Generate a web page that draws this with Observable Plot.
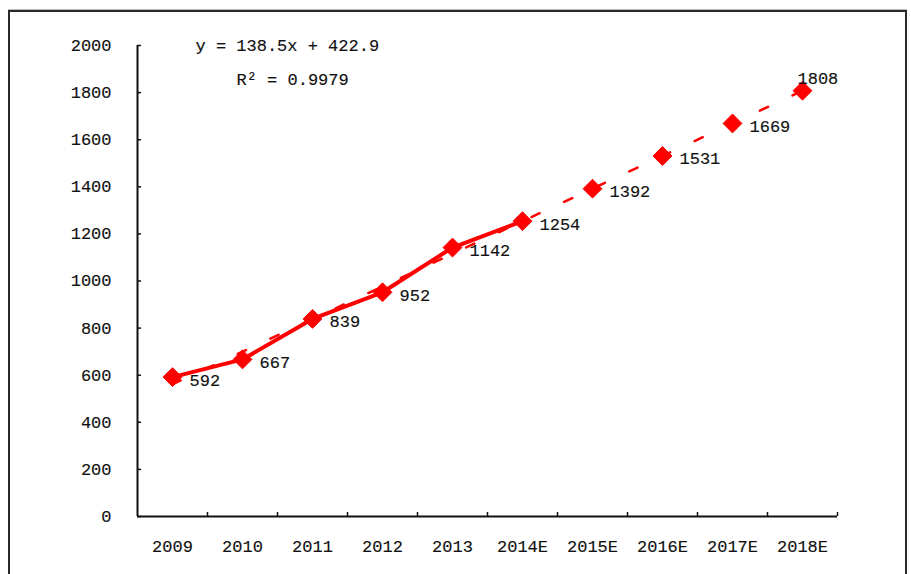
<!DOCTYPE html>
<html>
<head>
<meta charset="utf-8">
<script src="https://cdn.jsdelivr.net/npm/d3@7"></script>
<script src="https://cdn.jsdelivr.net/npm/@observablehq/plot@0.6"></script>
<style>
  html, body { margin: 0; padding: 0; background: #fff; }
  #wrap { position: relative; width: 911px; height: 574px; overflow: hidden; }
  #border { position: absolute; left: 8px; top: 10px; width: 895px; height: 600px; border: 2px solid #2a2a2a; box-shadow: 0 -1px 0 #bbb; pointer-events: none; }
  #chart text { stroke: #111; stroke-width: 0.15px; }
</style>
</head>
<body>
<div id="wrap"><div id="border"></div><div id="chart"></div></div>
<script>
const categories = ["2009","2010","2011","2012","2013","2014E","2015E","2016E","2017E","2018E"];
const values = [592, 667, 839, 952, 1142, 1254, 1392, 1531, 1669, 1808];
const actualCount = 6; // 2009 .. 2014E drawn with solid line
const trendValues = [561.4, 699.9, 838.4, 976.9, 1115.4, 1253.9, 1392.4, 1530.9, 1669.4, 1807.9];
const yTicks = [0, 200, 400, 600, 800, 1000, 1200, 1400, 1600, 1800, 2000];
const equationText = "y = 138.5x + 422.9";
const r2Text = "R² = 0.9979";

const data = categories.map((c, i) => ({cat: c, value: values[i], trend: trendValues[i], i}));
const actual = data.slice(0, actualCount);
const last = data.length - 1;

const font = "'Liberation Mono', 'DejaVu Sans Mono', monospace";
const W = 911, H = 574;
const mL = 137, mR = 74, mT = 45, mB = 58;
const frameW = W - mL - mR, frameH = H - mT - mB;
const band = frameW / categories.length;

const chart = Plot.plot({
  width: W,
  height: H,
  marginLeft: mL,
  marginRight: mR,
  marginTop: mT,
  marginBottom: mB,
  style: {fontFamily: font, fontSize: "17px", color: "#111", background: "transparent"},
  x: {type: "band", domain: categories, padding: 0, label: null},
  y: {domain: [0, 2000], label: null},
  marks: [
    Plot.axisY(yTicks, {tickSize: 0, tickPadding: 26, fontSize: 17, tickFormat: d => String(d)}),
    Plot.axisX({tickSize: 0, tickPadding: 23, fontSize: 17}),
    // inward y ticks
    Plot.ruleY(yTicks, {y: d => d, insetRight: frameW - 4, stroke: "#111", strokeWidth: 1.5}),
    // x ticks between categories
    Plot.ruleX(categories, {x: d => d, dx: band / 2, insetTop: frameH - 4, stroke: "#111", strokeWidth: 1.5}),
    // axis lines
    Plot.ruleY([0], {stroke: "#111", strokeWidth: 2}),
    Plot.ruleX([categories[0]], {x: d => d, dx: -band / 2, stroke: "#111", strokeWidth: 2}),
    // trend line (dashed)
    Plot.line(data, {x: "cat", y: "trend", stroke: "#ff0000", strokeWidth: 2.5, strokeDasharray: "9,27"}),
    // actual series line
    Plot.line(actual, {x: "cat", y: "value", stroke: "#ff0000", strokeWidth: 4}),
    Plot.dot(data, {x: "cat", y: "value", symbol: "diamond2", r: 8.5, fill: "#ff0000", stroke: "#ff0000", strokeWidth: 1}),
    // value labels
    Plot.text(data.filter(d => d.i !== last), {x: "cat", y: "value", text: d => String(d.value), textAnchor: "start", dx: 17, dy: 3, fill: "#111", fontSize: 17}),
    Plot.text(data.filter(d => d.i === last), {x: "cat", y: "value", text: d => String(d.value), textAnchor: "start", dx: -5, dy: -12, fill: "#111", fontSize: 17}),
    // equation annotations
    Plot.text([equationText], {frameAnchor: "top-left", dx: 58, dy: -7, textAnchor: "start", fill: "#111", fontSize: 17}),
    Plot.text([r2Text], {frameAnchor: "top-left", dx: 99, dy: 27, textAnchor: "start", fill: "#111", fontSize: 17})
  ]
});
document.getElementById("chart").appendChild(chart);
</script>
</body>
</html>
